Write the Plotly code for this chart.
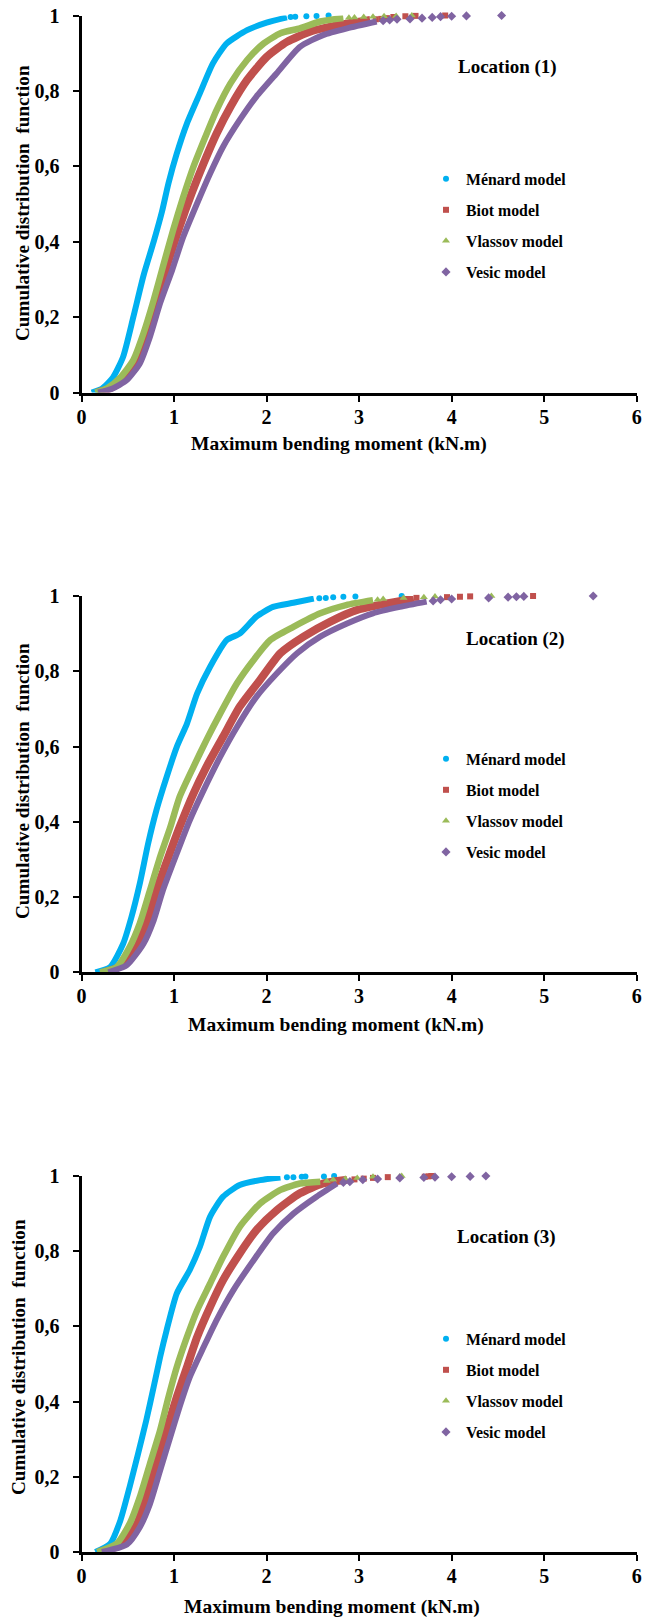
import plotly.graph_objects as go

# ---------------- data ----------------
X_TICKS = [0, 1, 2, 3, 4, 5, 6]
Y_TICKS = [0, 0.2, 0.4, 0.6, 0.8, 1]
Y_TICK_TEXT = ["0", "0,2", "0,4", "0,6", "0,8", "1"]
SERIES_NAMES = ["Ménard model", "Biot model", "Vlassov model", "Vesic model"]
LOCATIONS = ["Location (1)", "Location (2)", "Location (3)"]
X_TITLE = "Maximum bending moment (kN.m)"
Y_TITLE = "Cumulative distribution  function"

# Location (1)
L1_MENARD_X = [0.11, 0.22, 0.34, 0.45, 0.56, 0.67, 0.78, 0.87, 0.94, 1.03, 1.14, 1.28, 1.42, 1.57, 1.79, 2.00, 2.22]
L1_MENARD_Y = [0.0, 0.01, 0.04, 0.095, 0.20, 0.31, 0.40, 0.48, 0.555, 0.634, 0.714, 0.794, 0.873, 0.926, 0.961, 0.981, 0.995]
L1_MENARD_TAIL_X = [2.26, 2.31, 2.43, 2.54, 2.67]
L1_MENARD_TAIL_Y = [0.996, 0.997, 0.998, 0.999, 1.0]
L1_BIOT_X = [0.17, 0.30, 0.45, 0.60, 0.70, 0.81, 0.92, 1.06, 1.19, 1.32, 1.46, 1.61, 1.79, 2.00, 2.22, 2.47, 2.79, 3.12]
L1_BIOT_Y = [0.0, 0.01, 0.033, 0.086, 0.157, 0.245, 0.334, 0.44, 0.528, 0.608, 0.687, 0.758, 0.829, 0.89, 0.93, 0.957, 0.975, 0.988]
L1_BIOT_TAIL_X = [3.18, 3.24, 3.30, 3.37, 3.50, 3.61, 3.93]
L1_BIOT_TAIL_Y = [0.99, 0.991, 0.993, 0.996, 0.998, 0.999, 1.0]
L1_VLASSOV_X = [0.15, 0.28, 0.42, 0.56, 0.67, 0.78, 0.88, 0.99, 1.10, 1.21, 1.34, 1.46, 1.61, 1.79, 1.97, 2.15, 2.36, 2.58, 2.83]
L1_VLASSOV_Y = [0.0, 0.012, 0.04, 0.086, 0.157, 0.245, 0.334, 0.431, 0.519, 0.599, 0.679, 0.749, 0.82, 0.882, 0.926, 0.953, 0.966, 0.984, 0.993]
L1_VLASSOV_TAIL_X = [2.89, 2.95, 3.05, 3.15, 3.27, 3.40, 3.57]
L1_VLASSOV_TAIL_Y = [0.994, 0.995, 0.996, 0.997, 0.998, 0.999, 1.0]
L1_VESIC_X = [0.18, 0.33, 0.49, 0.63, 0.74, 0.85, 0.98, 1.10, 1.25, 1.39, 1.53, 1.71, 1.89, 2.11, 2.36, 2.61, 2.87, 3.19]
L1_VESIC_Y = [0.0, 0.01, 0.033, 0.077, 0.148, 0.237, 0.325, 0.413, 0.502, 0.581, 0.652, 0.723, 0.785, 0.847, 0.917, 0.948, 0.966, 0.984]
L1_VESIC_TAIL_X = [3.26, 3.33, 3.41, 3.55, 3.68, 3.79, 3.88, 4.00, 4.16, 4.54]
L1_VESIC_TAIL_Y = [0.986, 0.988, 0.99, 0.991, 0.993, 0.995, 0.997, 0.998, 0.999, 1.0]

# Location (2)
L2_MENARD_X = [0.15, 0.31, 0.45, 0.54, 0.63, 0.72, 0.81, 0.92, 1.03, 1.14, 1.25, 1.39, 1.57, 1.71, 1.89, 2.07, 2.29, 2.51]
L2_MENARD_Y = [0.0, 0.014, 0.076, 0.147, 0.236, 0.342, 0.431, 0.519, 0.599, 0.661, 0.741, 0.812, 0.883, 0.90, 0.945, 0.971, 0.982, 0.993]
L2_MENARD_TAIL_X = [2.57, 2.64, 2.72, 2.83, 2.96, 3.46]
L2_MENARD_TAIL_Y = [0.994, 0.995, 0.997, 0.998, 0.999, 1.0]
L2_BIOT_X = [0.24, 0.45, 0.60, 0.70, 0.81, 0.94, 1.06, 1.21, 1.35, 1.53, 1.71, 1.93, 2.15, 2.40, 2.69, 2.98, 3.30, 3.59]
L2_BIOT_Y = [0.0, 0.019, 0.067, 0.13, 0.218, 0.307, 0.386, 0.475, 0.546, 0.626, 0.706, 0.777, 0.848, 0.892, 0.932, 0.963, 0.98, 0.993]
L2_BIOT_TAIL_X = [3.62, 3.95, 4.09, 4.20, 4.88]
L2_BIOT_TAIL_Y = [0.995, 0.997, 0.998, 0.999, 1.0]
L2_VLASSOV_X = [0.20, 0.38, 0.52, 0.63, 0.74, 0.85, 0.96, 1.06, 1.21, 1.35, 1.50, 1.68, 1.86, 2.04, 2.29, 2.58, 2.86, 3.15]
L2_VLASSOV_Y = [0.0, 0.014, 0.067, 0.13, 0.218, 0.307, 0.386, 0.466, 0.546, 0.617, 0.688, 0.768, 0.83, 0.883, 0.918, 0.954, 0.976, 0.989]
L2_VLASSOV_TAIL_X = [3.20, 3.26, 3.48, 3.70, 3.82, 4.43]
L2_VLASSOV_TAIL_Y = [0.99, 0.992, 0.995, 0.997, 0.999, 1.0]
L2_VESIC_X = [0.29, 0.49, 0.67, 0.78, 0.88, 1.03, 1.17, 1.32, 1.50, 1.68, 1.89, 2.11, 2.33, 2.58, 2.87, 3.15, 3.44, 3.73]
L2_VESIC_Y = [0.0, 0.019, 0.076, 0.138, 0.218, 0.316, 0.404, 0.484, 0.573, 0.652, 0.732, 0.794, 0.848, 0.892, 0.927, 0.954, 0.971, 0.985]
L2_VESIC_TAIL_X = [3.80, 3.88, 4.00, 4.40, 4.61, 4.70, 4.78, 5.53]
L2_VESIC_TAIL_Y = [0.987, 0.99, 0.992, 0.995, 0.997, 0.998, 0.999, 1.0]

# Location (3)
L3_MENARD_X = [0.15, 0.31, 0.42, 0.52, 0.61, 0.70, 0.78, 0.85, 0.92, 1.03, 1.17, 1.28, 1.39, 1.53, 1.71, 1.93, 2.15]
L3_MENARD_Y = [0.0, 0.022, 0.084, 0.173, 0.26, 0.35, 0.439, 0.519, 0.59, 0.688, 0.75, 0.812, 0.892, 0.945, 0.976, 0.989, 0.996]
L3_MENARD_TAIL_X = [2.22, 2.29, 2.38, 2.42, 2.62, 2.73]
L3_MENARD_TAIL_Y = [0.997, 0.997, 0.998, 0.999, 0.999, 1.0]
L3_BIOT_X = [0.19, 0.45, 0.60, 0.70, 0.81, 0.92, 1.03, 1.14, 1.25, 1.39, 1.53, 1.71, 1.89, 2.11, 2.36, 2.61, 2.87]
L3_BIOT_Y = [0.0, 0.022, 0.075, 0.146, 0.235, 0.324, 0.412, 0.492, 0.572, 0.652, 0.723, 0.794, 0.856, 0.909, 0.954, 0.98, 0.99]
L3_BIOT_TAIL_X = [2.95, 3.05, 3.15, 3.31, 3.71, 3.75, 3.78]
L3_BIOT_TAIL_Y = [0.991, 0.993, 0.995, 0.997, 0.998, 0.999, 1.0]
L3_VLASSOV_X = [0.17, 0.38, 0.52, 0.63, 0.74, 0.85, 0.94, 1.03, 1.14, 1.25, 1.39, 1.53, 1.71, 1.93, 2.15, 2.36, 2.58]
L3_VLASSOV_Y = [0.0, 0.022, 0.075, 0.146, 0.235, 0.324, 0.412, 0.492, 0.572, 0.643, 0.714, 0.785, 0.865, 0.927, 0.963, 0.98, 0.985]
L3_VLASSOV_TAIL_X = [2.65, 2.72, 2.85, 2.98, 3.15, 3.44, 3.46]
L3_VLASSOV_TAIL_Y = [0.987, 0.99, 0.993, 0.995, 0.998, 0.999, 1.0]
L3_VESIC_X = [0.22, 0.49, 0.63, 0.74, 0.85, 0.96, 1.06, 1.17, 1.32, 1.46, 1.64, 1.86, 2.07, 2.29, 2.54, 2.76]
L3_VESIC_Y = [0.0, 0.02, 0.066, 0.128, 0.217, 0.306, 0.386, 0.465, 0.545, 0.617, 0.696, 0.776, 0.847, 0.90, 0.945, 0.98]
L3_VESIC_TAIL_X = [2.83, 2.90, 3.04, 3.20, 3.44, 3.70, 3.82, 4.00, 4.20, 4.37]
L3_VESIC_TAIL_Y = [0.983, 0.985, 0.99, 0.992, 0.995, 0.996, 0.997, 0.998, 0.999, 1.0]

PANELS = [
    [(L1_MENARD_X, L1_MENARD_Y, L1_MENARD_TAIL_X, L1_MENARD_TAIL_Y),
     (L1_BIOT_X, L1_BIOT_Y, L1_BIOT_TAIL_X, L1_BIOT_TAIL_Y),
     (L1_VLASSOV_X, L1_VLASSOV_Y, L1_VLASSOV_TAIL_X, L1_VLASSOV_TAIL_Y),
     (L1_VESIC_X, L1_VESIC_Y, L1_VESIC_TAIL_X, L1_VESIC_TAIL_Y)],
    [(L2_MENARD_X, L2_MENARD_Y, L2_MENARD_TAIL_X, L2_MENARD_TAIL_Y),
     (L2_BIOT_X, L2_BIOT_Y, L2_BIOT_TAIL_X, L2_BIOT_TAIL_Y),
     (L2_VLASSOV_X, L2_VLASSOV_Y, L2_VLASSOV_TAIL_X, L2_VLASSOV_TAIL_Y),
     (L2_VESIC_X, L2_VESIC_Y, L2_VESIC_TAIL_X, L2_VESIC_TAIL_Y)],
    [(L3_MENARD_X, L3_MENARD_Y, L3_MENARD_TAIL_X, L3_MENARD_TAIL_Y),
     (L3_BIOT_X, L3_BIOT_Y, L3_BIOT_TAIL_X, L3_BIOT_TAIL_Y),
     (L3_VLASSOV_X, L3_VLASSOV_Y, L3_VLASSOV_TAIL_X, L3_VLASSOV_TAIL_Y),
     (L3_VESIC_X, L3_VESIC_Y, L3_VESIC_TAIL_X, L3_VESIC_TAIL_Y)],
]

# ---------------- styling ----------------
W, H = 645, 1620
PAGE_OFFSET = 0  # body margin is removed below, so the figure sits at the window corner
COLORS = ["#00B0F0", "#C0504D", "#9BBB59", "#8064A2"]
SYMBOLS = ["circle", "square", "triangle-up", "diamond"]
MSIZE = [6, 6, 7, 7]
LWIDTH = [6, 8, 6.5, 6]
FONT = "Liberation Serif, Times New Roman, serif"

# target positions, in window pixels
PLOT_LEFT, PLOT_RIGHT = 81.5, 636.7
PANEL_TOPS = [15.5, 596.0, 1176.0]
PANEL_BOTTOMS = [392.5, 972.3, 1552.0]
XTITLE_POS = [(339, 444), (336, 1025), (332, 1607)]
YTITLE_POS = [(22, 203), (22, 781), (18, 1357)]
LOC_POS = [(507, 67), (515, 639), (506, 1237)]
LEGEND_TOP = [162, 742, 1322]
LEGEND_LEFT = 426


def px_x(px):
    return (px - PAGE_OFFSET) / W


def px_y(py):
    return 1 - (py - PAGE_OFFSET) / H


fig = go.Figure()

for p, series in enumerate(PANELS):
    sfx = "" if p == 0 else str(p + 1)
    leg = "legend" + sfx
    for s, (bx, by, tx, ty) in enumerate(series):
        fig.add_trace(go.Scatter(
            x=bx, y=by, mode="lines",
            line=dict(color=COLORS[s], width=LWIDTH[s], shape="spline", smoothing=0.6),
            xaxis="x" + sfx, yaxis="y" + sfx, showlegend=False, hoverinfo="skip",
        ))
        fig.add_trace(go.Scatter(
            x=tx, y=ty, mode="markers", name=SERIES_NAMES[s],
            marker=dict(color=COLORS[s], symbol=SYMBOLS[s], size=MSIZE[s], line=dict(width=0)),
            xaxis="x" + sfx, yaxis="y" + sfx, legend=leg, legendgroup=f"g{p}{s}",
            cliponaxis=False,
        ))

layout = dict(
    width=W, height=H,
    margin=dict(l=0, r=0, t=0, b=0, pad=0, autoexpand=False),
    paper_bgcolor="white", plot_bgcolor="white",
    font=dict(family=FONT, color="black"),
    showlegend=True,
)

annotations = []
for p in range(3):
    sfx = "" if p == 0 else str(p + 1)
    xd = [px_x(PLOT_LEFT), px_x(PLOT_RIGHT)]
    yd = [px_y(PANEL_BOTTOMS[p]), px_y(PANEL_TOPS[p])]
    common = dict(showline=True, linewidth=3, linecolor="black", ticks="outside",
                  ticklen=6, tickwidth=2, tickcolor="black", showgrid=False,
                  zeroline=False, fixedrange=True, automargin=False,
                  ticklabeloverflow="allow",
                  tickfont=dict(family=FONT, size=20, color="black", weight="bold"))
    layout["xaxis" + sfx] = dict(domain=xd, range=[0, 6], tickvals=X_TICKS,
                                 anchor="y" + sfx, ticklabelstandoff=-2, **common)
    layout["yaxis" + sfx] = dict(domain=yd, range=[0, 1], tickvals=Y_TICKS,
                                 ticktext=Y_TICK_TEXT, anchor="x" + sfx,
                                 ticklabelstandoff=9, **common)
    layout["legend" + sfx] = dict(
        x=px_x(LEGEND_LEFT), y=px_y(LEGEND_TOP[p]), xanchor="left", yanchor="top",
        xref="paper", yref="paper", bgcolor="rgba(0,0,0,0)", borderwidth=0,
        traceorder="grouped", tracegroupgap=7.5, itemwidth=30,
        font=dict(family=FONT, size=15.8, color="black", weight="bold"),
    )
    annotations.append(dict(
        text=X_TITLE, x=px_x(XTITLE_POS[p][0]), y=px_y(XTITLE_POS[p][1]),
        xref="paper", yref="paper", showarrow=False, xanchor="center", yanchor="middle",
        font=dict(family=FONT, size=19.5, color="black", weight="bold")))
    annotations.append(dict(
        text=Y_TITLE, x=px_x(YTITLE_POS[p][0]), y=px_y(YTITLE_POS[p][1]),
        xref="paper", yref="paper", showarrow=False, textangle=-90,
        xanchor="center", yanchor="middle",
        font=dict(family=FONT, size=19.2, color="black", weight="bold")))
    annotations.append(dict(
        text=LOCATIONS[p], x=px_x(LOC_POS[p][0]), y=px_y(LOC_POS[p][1]),
        xref="paper", yref="paper", showarrow=False, xanchor="center", yanchor="middle",
        font=dict(family=FONT, size=19, color="black", weight="bold")))

layout["annotations"] = annotations
fig.update_layout(**layout)
fig.write_html("out.html", config={"displayModeBar": False},
               post_script="document.body.style.margin = '0px';")
